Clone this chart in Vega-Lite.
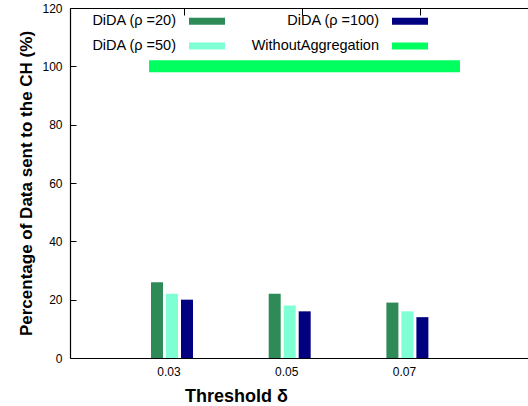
{
  "$schema": "https://vega.github.io/schema/vega-lite/v6.json",
  "width": 458,
  "height": 350,
  "autosize": {"type": "none"},
  "padding": {"left": 70, "top": 8, "right": 0, "bottom": 48},
  "config": {
    "view": {"stroke": null},
    "font": "Liberation Sans",
    "axis": {"domainColor": "#000", "domainWidth": 1.2, "tickColor": "#000", "labelColor": "#000", "titleColor": "#000", "labelFont": "Liberation Sans", "titleFont": "Liberation Sans", "grid": false}
  },
  "datasets": {
    "bars": [
      {"threshold": "0.03", "series": "DiDA (ρ =20)", "value": 26},
      {"threshold": "0.03", "series": "DiDA (ρ =50)", "value": 22},
      {"threshold": "0.03", "series": "DiDA (ρ =100)", "value": 20},
      {"threshold": "0.05", "series": "DiDA (ρ =20)", "value": 22},
      {"threshold": "0.05", "series": "DiDA (ρ =50)", "value": 18},
      {"threshold": "0.05", "series": "DiDA (ρ =100)", "value": 16},
      {"threshold": "0.07", "series": "DiDA (ρ =20)", "value": 19},
      {"threshold": "0.07", "series": "DiDA (ρ =50)", "value": 16},
      {"threshold": "0.07", "series": "DiDA (ρ =100)", "value": 14}
    ],
    "flat": [
      {"series": "WithoutAggregation", "value": 100, "from": "0.03", "to": "0.07"}
    ]
  },
  "layer": [
    {
      "data": {"name": "bars"},
      "mark": {"type": "bar"},
      "encoding": {
        "x": {
          "field": "threshold", "type": "nominal",
          "scale": {"paddingInner": 0.6177, "paddingOuter": 0.7545, "align": 0.4476},
          "axis": {"orient": "bottom", "title": "Threshold  δ", "ticks": false, "labelAngle": 0, "labelFontSize": 12, "labelPadding": 8, "labelOffset": -3, "titleFontSize": 18, "titleFontWeight": "bold", "titleX": 166, "titleY": 43, "titleBaseline": "alphabetic", "titleAlign": "center", "titleAnchor": null}
        },
        "xOffset": {
          "field": "series", "type": "nominal",
          "scale": {"domain": ["DiDA (ρ =20)", "DiDA (ρ =50)", "DiDA (ρ =100)"], "paddingInner": 0.2, "paddingOuter": 0.1}
        },
        "y": {
          "field": "value", "type": "quantitative",
          "scale": {"domain": [0, 120]},
          "axis": {"values": [0, 20, 40, 60, 80, 100, 120], "tickSize": -6, "labelPadding": 14, "labelFontSize": 12, "title": "Percentage of Data sent to the CH (%)", "titleFontSize": 17, "titleFontWeight": "bold", "titlePadding": 6}
        },
        "color": {
          "field": "series", "type": "nominal",
          "scale": {
            "domain": ["DiDA (ρ =20)", "DiDA (ρ =50)", "DiDA (ρ =100)", "WithoutAggregation"],
            "range": ["#2E8B57", "#7FFFD4", "#000080", "#00FF5F"]
          },
          "legend": {
            "title": null, "orient": "none", "legendX": 119, "legendY": -5, "columns": 2,
            "symbolType": "M-1,-0.2H1V0.2H-1Z", "symbolSize": 1296, "symbolStrokeWidth": 0,
            "labelFontSize": 14.5, "labelFont": "Liberation Sans", "labelColor": "#000",
            "labelAlign": "right", "labelOffset": -49, "columnPadding": 26, "rowPadding": -7, "padding": 0
          }
        }
      }
    },
    {
      "data": {"name": "flat"},
      "mark": {"type": "rule", "strokeWidth": 12},
      "encoding": {
        "x": {"field": "from", "type": "nominal", "bandPosition": -0.011, "axis": {"orient": "top", "labels": false, "title": null, "tickSize": -7, "bandPosition": 0.789}},
        "x2": {"field": "to", "bandPosition": 1.669},
        "y": {"field": "value", "type": "quantitative"},
        "color": {"field": "series", "type": "nominal"}
      }
    }
  ],
  "resolve": {"axis": {"x": "independent"}}
}
